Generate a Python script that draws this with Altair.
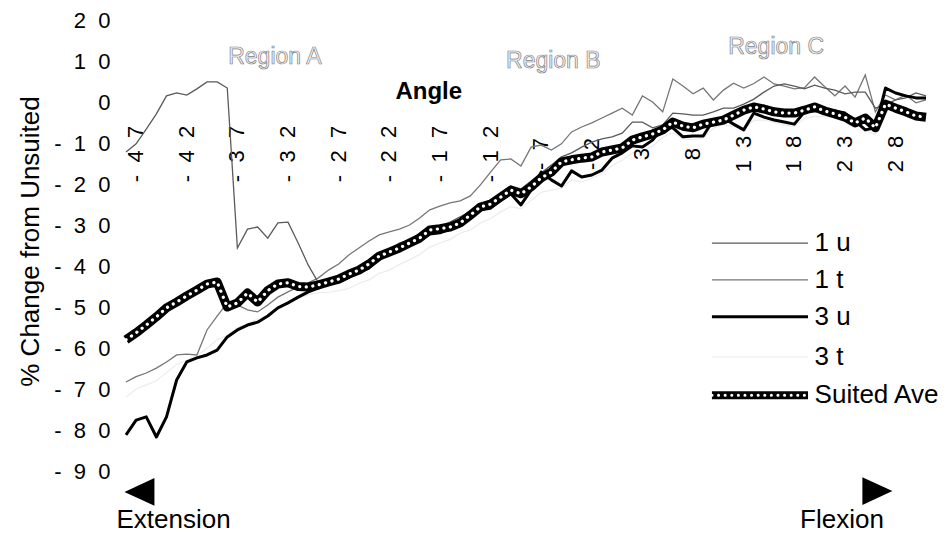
import altair as alt
import pandas as pd

# ---------------- data ----------------
angles = list(range(-48, 32))  # 80 sampled angles (deg)

s_1u = [-12.2, -10.2, -6.6, -2.9, 1.5, 2.2, 1.7, 3.2, 4.9, 4.9,
        3.4, -35.6, -31.0, -30.5, -33.2, -29.5, -29.3, -34.4, -39.8, -44.1,
        -43.9, -43.4, -42.4, -40.5, -39.0, -37.1, -35.9, -34.4, -33.7, -32.0,
        -30.5, -30.2, -29.3, -28.0, -26.8, -24.9, -23.9, -22.2, -20.5, -21.2,
        -19.3, -17.3, -15.4, -13.4, -12.4, -11.0, -9.8, -9.0, -8.5, -7.6,
        -4.9, -4.9, -6.3, -5.6, -2.7, -2.9, -3.2, -3.2, -2.4, -1.5,
        -1.5, -0.5, 0.7, 2.4, 3.9, 4.4, 3.9, 3.2, 4.1, 3.4,
        2.9, 2.0, 2.4, 2.4, -1.5, -0.7, 0.5, 1.0, 2.2, 1.5]

s_1t = [-68.3, -67.0, -66.1, -64.9, -63.4, -61.7, -61.5, -61.7, -55.6, -52.2,
        -49.0, -49.5, -50.7, -51.2, -49.5, -47.6, -46.3, -45.1, -44.1, -42.9,
        -41.0, -39.5, -37.3, -35.6, -33.9, -32.4, -31.7, -31.0, -30.0, -28.3,
        -26.3, -25.4, -24.6, -24.1, -22.9, -20.2, -17.1, -14.1, -13.9, -15.6,
        -11.0, -10.5, -11.7, -10.2, -7.3, -6.1, -5.1, -3.9, -2.7, -1.5,
        -3.2, 1.5, 0.0, -2.4, 5.6, 3.9, 2.0, 3.4, 0.5, 2.9,
        4.6, 3.4, 4.5, 6.1, 4.4, 3.9, 3.2, 3.5, 6.1, 3.7,
        1.5, 3.9, 1.2, 6.6, -2.4, 1.7, 0.5, 1.7, -0.2, 0.5]

s_3u = [-81.2, -77.6, -76.8, -81.7, -76.8, -67.8, -63.4, -62.4, -61.7, -60.5,
        -57.3, -55.6, -54.4, -53.7, -52.2, -50.2, -49.0, -47.6, -46.3, -45.4,
        -44.1, -43.9, -42.7, -41.5, -40.5, -38.0, -37.1, -36.1, -34.9, -33.7,
        -32.2, -31.9, -31.0, -30.2, -28.3, -26.3, -25.9, -23.9, -22.4, -25.1,
        -21.5, -17.1, -19.0, -20.5, -16.8, -18.3, -17.8, -16.6, -13.7, -12.4,
        -10.7, -11.0, -9.3, -6.3, -6.3, -8.5, -8.3, -8.3, -4.4, -3.9,
        -5.4, -6.8, -2.7, -3.7, -4.4, -4.9, -5.4, -2.4, -2.2, -2.0,
        -2.2, -2.7, -4.6, -6.8, -6.3, 3.4, 2.2, 1.5, 1.0, 1.0]

s_3t = [-72.0, -70.0, -69.0, -68.0, -66.0, -64.0, -63.0, -62.0, -60.0, -58.0,
        -57.0, -55.0, -54.0, -53.0, -52.0, -50.0, -49.0, -48.0, -47.0, -46.5,
        -46.4, -46.0, -45.5, -44.2, -43.4, -41.8, -41.0, -39.6, -38.5, -37.2,
        -35.4, -34.4, -33.5, -32.0, -31.2, -29.5, -28.4, -26.8, -25.5, -26.0,
        -24.0, -22.0, -21.5, -21.0, -19.0, -19.5, -18.6, -17.5, -15.5, -14.2,
        -12.4, -12.0, -10.8, -8.6, -7.5, -9.0, -9.2, -8.8, -6.4, -5.5,
        -6.0, -6.5, -4.5, -4.4, -5.0, -5.6, -6.0, -4.0, -3.5, -3.6,
        -3.8, -4.2, -5.5, -7.0, -8.0, -2.0, -1.5, -2.5, -3.0, -3.2]

s_suited = [-58.0, -56.3, -54.4, -52.4, -50.2, -48.8, -47.3, -45.9, -44.4, -43.9,
            -50.0, -49.0, -46.6, -48.8, -46.0, -44.4, -44.1, -45.0, -45.1, -44.6,
            -43.9, -43.2, -42.0, -41.0, -39.5, -37.6, -36.6, -35.6, -34.4, -33.2,
            -31.2, -30.9, -30.5, -29.5, -27.6, -25.6, -24.9, -23.2, -21.5, -22.4,
            -20.7, -18.5, -17.1, -14.6, -14.1, -13.7, -13.4, -12.2, -11.7, -11.2,
            -9.3, -8.5, -7.8, -6.8, -4.9, -5.9, -6.3, -5.4, -4.9, -4.4,
            -3.2, -2.0, -1.2, -1.7, -2.4, -2.7, -2.7, -2.0, -1.2, -2.2,
            -2.9, -3.7, -5.1, -3.9, -6.3, -0.5, -1.5, -2.4, -3.4, -3.7]

series_names = ["1 u", "1 t", "3 u", "3 t", "Suited Ave"]
series_values = [s_1u, s_1t, s_3u, s_3t, s_suited]

y_ticks = [20, 10, 0, -10, -20, -30, -40, -50, -60, -70, -80, -90]
x_tick_values = [-47, -42, -37, -32, -27, -22, -17, -12, -7, -2, 3, 8, 13, 18, 23, 28]

region_labels = ["Region A", "Region B", "Region C"]
region_x = [-33.3, -5.8, 16.2]
region_y = [11.0, 10.0, 13.4]

# ---------------- styling / layout ----------------
FONT = "Liberation Sans"
SEP = "\u00a0\u00a0"


def spaced(v):
    return SEP.join(str(v))


x_tick_labels = [spaced(v) for v in x_tick_values]

rows = []
for name, vals in zip(series_names, series_values):
    for a, v in zip(angles, vals):
        rows.append({"angle": a, "value": v, "series": name})
df = pd.DataFrame(rows)

xs = alt.Scale(domain=[-48, 31], nice=False, zero=False)
ys = alt.Scale(domain=[-90, 20], nice=False, zero=False)

yaxis = alt.Axis(
    values=y_ticks,
    labelExpr="join(split(toString(datum.value), ''), '\u00a0\u00a0')",
    domain=False, ticks=False, tickSize=0, grid=False,
    labelFont=FONT, labelFontSize=22, labelColor="black", labelPadding=16,
    labelOverlap=False,
    title="% Change from Unsuited", titleFont=FONT, titleFontSize=26,
    titleFontWeight="normal", titleColor="black", titleX=-88, titleY=221,
    titleAngle=270, titleBaseline="alphabetic", titleAlign="center",
)


def X(field):
    return alt.X(field, scale=xs, axis=None)


def Y(field):
    return alt.Y(field, scale=ys, axis=yaxis)


def line_layer(name, **mark):
    return (
        alt.Chart(df)
        .transform_filter(alt.datum.series == name)
        .mark_line(**mark)
        .encode(x=X("angle:Q"), y=Y("value:Q"))
    )


# x tick labels at the zero line, rotated
xlab_df = pd.DataFrame({"angle": x_tick_values, "label": x_tick_labels})
xlabels = alt.Chart(xlab_df).mark_text(
    angle=270, align="center", baseline="middle", dx=-52,
    font=FONT, fontSize=22, color="black",
).encode(
    x=X("angle:Q"),
    y=alt.YDatum(0, scale=ys, axis=yaxis),
    text="label:N",
)

l_3t = line_layer("3 t", color="#ececec", strokeWidth=1.2)
l_1t = line_layer("1 t", color="#767676", strokeWidth=1.3)
l_1u = line_layer("1 u", color="#5a5a5a", strokeWidth=1.3)
l_suit_b = line_layer("Suited Ave", color="black", strokeWidth=9, strokeJoin="round")
l_3u = line_layer("3 u", color="black", strokeWidth=3, strokeJoin="round")
l_suit_w = line_layer("Suited Ave", color="white", strokeWidth=3.2,
                      strokeDash=[0.1, 6.5], strokeCap="round")

# annotations
reg_df = pd.DataFrame({"x": region_x, "y": region_y, "t": region_labels})
regions = alt.Chart(reg_df).mark_text(
    font=FONT, fontSize=23, fill="#f6f6f6", stroke="#808080", strokeWidth=0.7,
    align="center", baseline="middle",
).encode(x=X("x:Q"), y=Y("y:Q"), text="t:N")

angle_title = alt.Chart(pd.DataFrame({"x": [-18.1], "y": [2.4], "t": ["Angle"]})).mark_text(
    font=FONT, fontSize=24, fontWeight="bold", color="black", align="center", baseline="middle",
).encode(x=X("x:Q"), y=Y("y:Q"), text="t:N")

dir_df = pd.DataFrame({"x": [-43.3, 22.7], "y": [-102.0, -102.0], "t": ["Extension", "Flexion"]})
dir_text = alt.Chart(dir_df).mark_text(
    font=FONT, fontSize=26, color="black", align="center", baseline="middle",
).encode(x=X("x:Q"), y=Y("y:Q"), text="t:N")

tri_left = alt.Chart(pd.DataFrame({"x": [-46.67], "y": [-95.1]})).mark_point(
    shape="M -1 0 L 1 -0.93 L 1 0.93 Z", filled=True, size=900, color="black", opacity=1,
).encode(x=X("x:Q"), y=Y("y:Q"))
tri_right = alt.Chart(pd.DataFrame({"x": [26.2], "y": [-94.9]})).mark_point(
    shape="M 1 0 L -1 -0.93 L -1 0.93 Z", filled=True, size=900, color="black", opacity=1,
).encode(x=X("x:Q"), y=Y("y:Q"))

# manual legend (layout constants)
LEG_X0, LEG_X1, LEG_TX = 9.86, 19.35, 20.0
legend_y = [-34.4, -43.4, -52.4, -62.2, -71.5]
leg_df = pd.DataFrame({"series": series_names, "ly": legend_y})


def leg_rule(name, **mark):
    return alt.Chart(leg_df).transform_filter(alt.datum.series == name).mark_rule(**mark).encode(
        x=alt.XDatum(LEG_X0, scale=xs, axis=None), x2=alt.X2Datum(LEG_X1), y=Y("ly:Q")
    )


leg_rules = [
    leg_rule("1 u", color="#5a5a5a", strokeWidth=1.3),
    leg_rule("1 t", color="#767676", strokeWidth=1.3),
    leg_rule("3 u", color="black", strokeWidth=3),
    leg_rule("3 t", color="#ececec", strokeWidth=1.2),
    leg_rule("Suited Ave", color="black", strokeWidth=8),
    leg_rule("Suited Ave", color="white", strokeWidth=3, strokeDash=[0.1, 6.5], strokeCap="round"),
]
leg_text = alt.Chart(leg_df).mark_text(
    font=FONT, fontSize=26, color="black", align="left", baseline="middle",
).encode(x=alt.XDatum(LEG_TX, scale=xs, axis=None), y=Y("ly:Q"), text="series:N")

chart = alt.layer(
    l_3t, xlabels, l_1t, l_1u, l_suit_b, l_3u, l_suit_w,
    regions, angle_title, dir_text, tri_left, tri_right,
    *leg_rules, leg_text,
).properties(
    width=800, height=451,
    padding={"left": 118, "top": 12, "right": 14, "bottom": 66},
    autosize=alt.AutoSizeParams(type="none"),
    background="white",
).configure_view(stroke=None)

chart.save("out.html", embed_options={"renderer": "svg", "actions": False})
